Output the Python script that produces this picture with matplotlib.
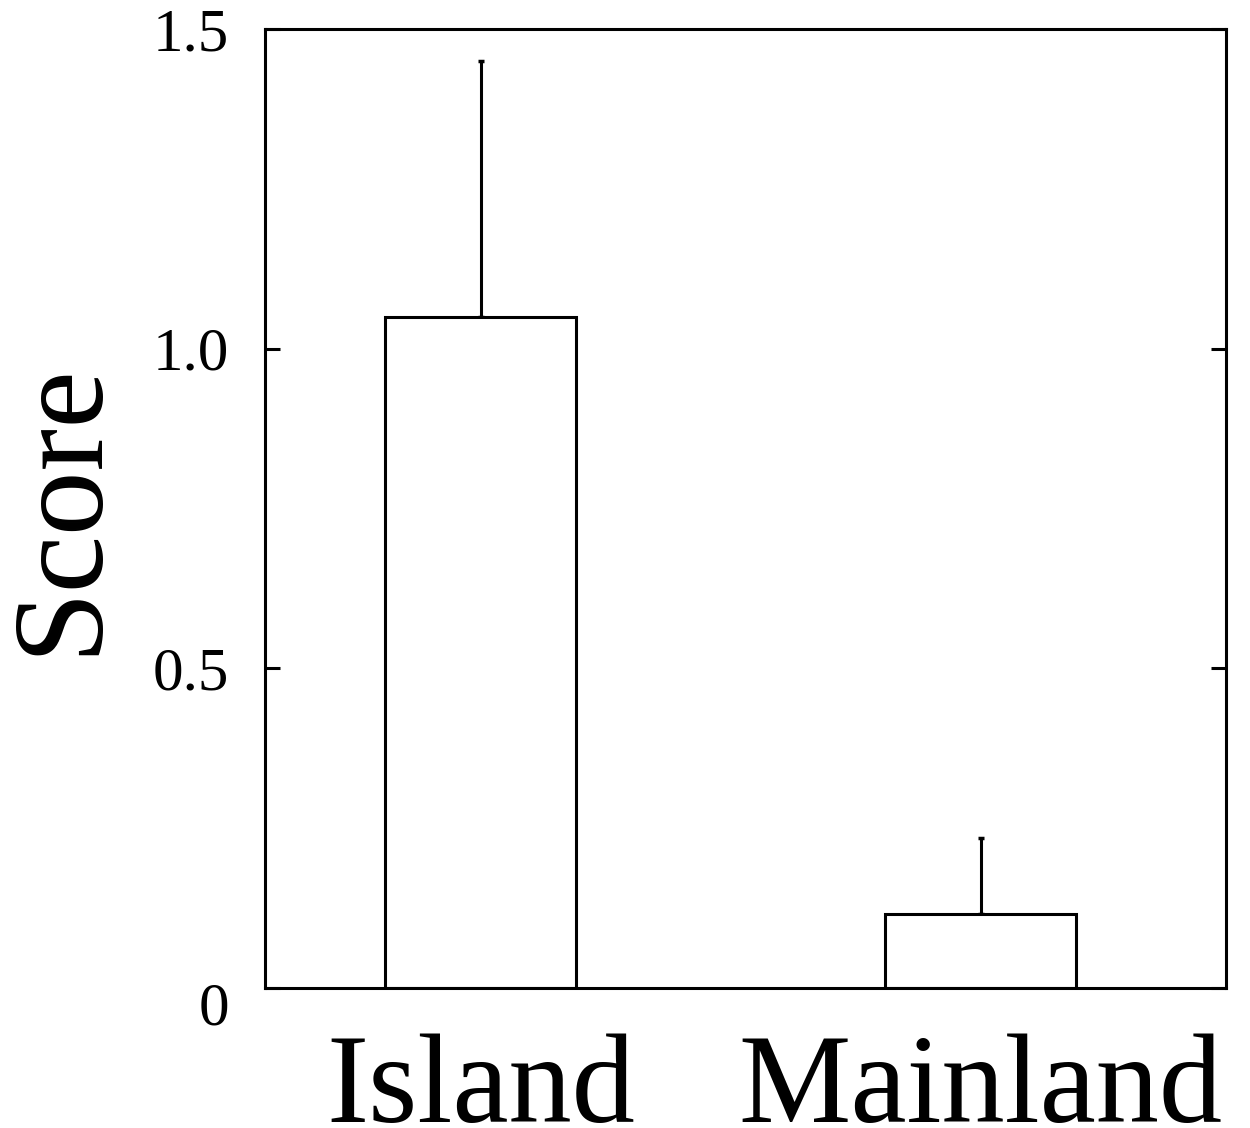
import matplotlib
matplotlib.use('Agg')
from matplotlib import pyplot as plt
from matplotlib.transforms import ScaledTranslation

groups = ['Island', 'Mainland']
scores = [1.05, 0.116]
errors = [0.40, 0.118]
y_ticks = [0, 0.5, 1.0, 1.5]
y_tick_labels = ['0', '0.5', '1.0', '1.5']

plt.rcParams['font.family'] = ['Liberation Serif', 'DejaVu Serif']

fig = plt.figure(figsize=(12.5, 11.28), dpi=100)
ax = fig.add_axes([0.212, 0.1241, 0.769, 0.8502])

x = list(range(len(groups)))
ax.bar(x, scores, width=0.382, color='white', edgecolor='black', linewidth=2.2,
       zorder=2)
ax.errorbar(x, scores, yerr=[[0] * len(errors), errors], fmt='none',
            ecolor='black', elinewidth=2.2, capsize=2, capthick=2.5, zorder=1)

ax.set_xlim(-0.431, 1.491)
ax.set_ylim(0, 1.5)
ax.set_xticks(x)
ax.set_xticklabels(groups, fontsize=91)
ax.set_yticks(y_ticks)
ax.set_yticklabels(y_tick_labels, fontsize=44)

ax.tick_params(axis='x', length=0, pad=33)
ax.tick_params(axis='y', direction='in', length=11, width=2.2, pad=26,
               right=True)

# the zero label sits a little below the axis line in the original
zero = ax.get_yticklabels()[0]
zero.set_transform(zero.get_transform() + ScaledTranslation(0, -0.15, fig.dpi_scale_trans))

for side in ax.spines.values():
    side.set_linewidth(2.2)

ax.set_ylabel('Score', fontsize=93)
ax.yaxis.set_label_coords(-0.148, 0.5)

fig.savefig('out.png', dpi=100)
